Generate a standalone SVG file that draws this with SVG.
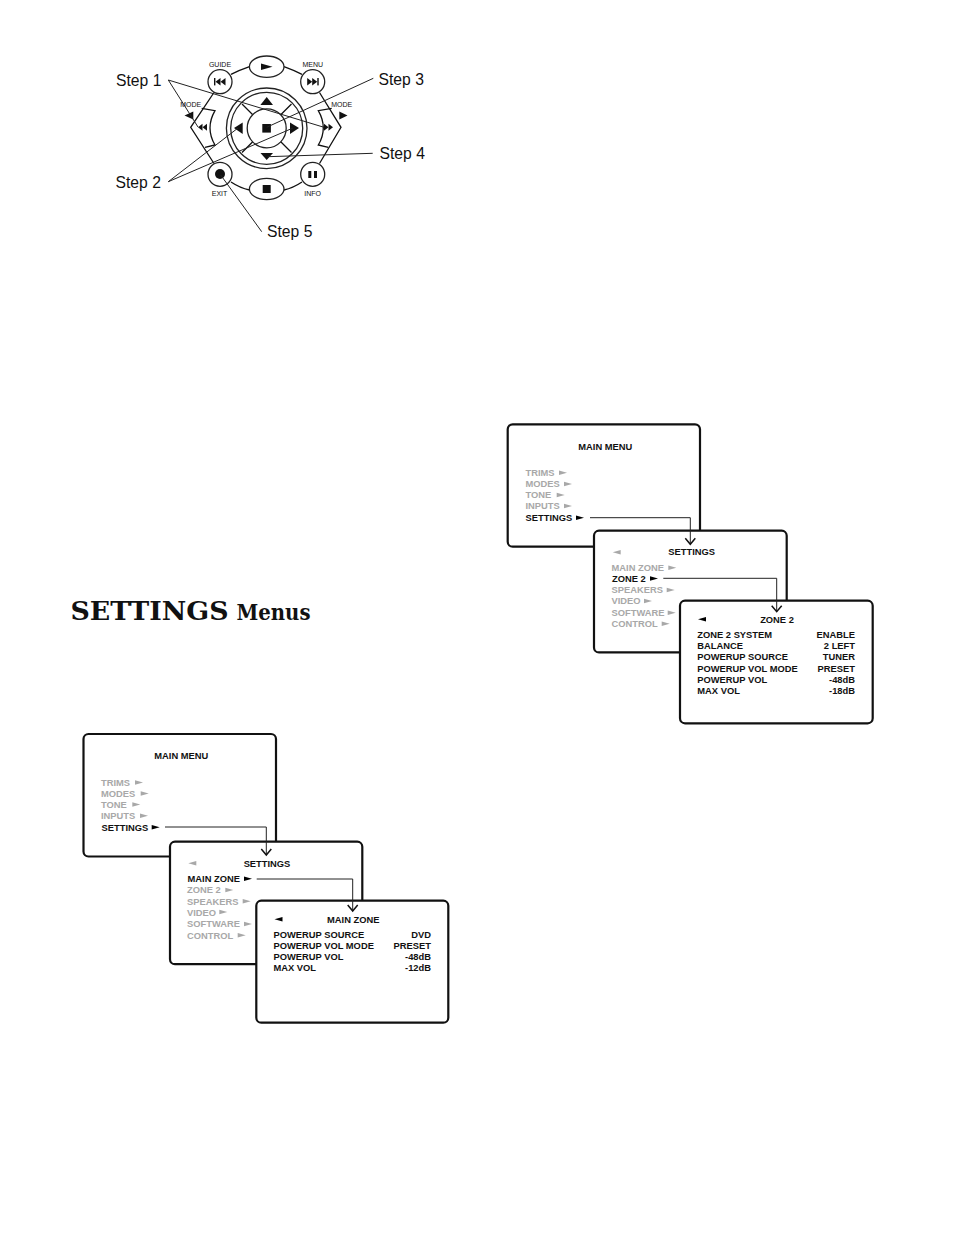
<svg xmlns="http://www.w3.org/2000/svg" width="954" height="1235" viewBox="0 0 954 1235">
<style>
text{font-family:"Liberation Sans",Arial,sans-serif;fill:#111}
.b{fill:#fff;stroke:#111;stroke-width:2.2}
.t{font-size:9.35px;font-weight:bold}
.g{fill:#a8a8a8}
.e{text-anchor:end}
.m{text-anchor:middle}
.s{font-size:15.7px}
.r{font-size:7px;text-anchor:middle}
.l{fill:none;stroke:#222;stroke-width:1}
.o{fill:#fff;stroke:#222;stroke-width:1.3}
.k{fill:#111;stroke:none}
.h{fill:none;stroke:#111;stroke-width:1.3}
.tg{fill:#a8a8a8}
.ar{fill:none;stroke:#111;stroke-width:1.5}
</style>
<defs>
<polygon id="ra" points="0,-2.3 8,0 0,2.3"/>
<polygon id="la" points="8,-2.3 0,0 8,2.3"/>
</defs>
<rect width="954" height="1235" fill="#fff"/>

<g id="remote">
<path class="h" d="M231,74.3Q240,70 249.5,66.7M302,74.3Q293,70 284,66.7M231,182Q240,188 249.5,190M302,182Q293,188 284,190"/>
<path class="h" d="M214,92.5L190.7,127.3L214,163.5M319.5,92.5L341,127.3L319.5,163.5"/>
<path class="h" d="M201.7,108.3L215,110.7Q205,128 215,145L205,147.3M331.7,108.3L318.3,110.7Q328.3,128 318.3,145L328.3,147.3"/>
<circle class="o" cx="266.7" cy="128.3" r="40.3"/>
<circle class="o" cx="266.7" cy="128.3" r="36"/>
<path class="h" d="M242,104L253,115M291.5,104L280.5,115M242,152.5L253,141.5M291.5,152.5L280.5,141.5"/>
<circle class="o" cx="266.7" cy="128.3" r="19.5"/>
<polygon class="k" points="266.7,97 273,105 260.4,105"/>
<polygon class="k" points="260.5,153 273,153 266.7,160"/>
<polygon class="k" points="234,128 242.7,122.5 242.7,134"/>
<polygon class="k" points="299,128 290,122.5 290,134"/>
<rect class="k" x="262.3" y="124" width="8.6" height="8.6"/>
<polygon class="k" points="198,127.3 202.5,123.8 202.5,130.8"/>
<polygon class="k" points="202.5,127.3 207,123.8 207,130.8"/>
<polygon class="k" points="333,127.3 328.5,123.8 328.5,130.8"/>
<polygon class="k" points="328.5,127.3 324,123.8 324,130.8"/>
<text class="r" x="190.7" y="106.7">MODE</text>
<text class="r" x="341.7" y="106.7">MODE</text>
<polygon class="k" points="184.5,115.5 193.3,111.5 193.3,119.5"/>
<polygon class="k" points="339.3,111.5 347.5,115.5 339.3,119.5"/>
</g>
<g id="btn-play"><ellipse class="o" cx="266.7" cy="66.7" rx="17.3" ry="10.7"/><polygon class="k" points="261,63.5 272.5,66.7 261,70"/></g>
<g id="btn-stop"><ellipse class="o" cx="266.7" cy="189" rx="17.3" ry="10.7"/><rect class="k" x="262.7" y="185" width="8" height="8"/></g>
<g id="btn-guide"><circle class="o" cx="220" cy="81.7" r="12"/><rect class="k" x="214" y="78" width="1.4" height="7.4"/><polygon class="k" points="215.5,81.7 220.5,78 220.5,85.4"/><polygon class="k" points="220.5,81.7 225.5,78 225.5,85.4"/><text class="r" x="220" y="66.7">GUIDE</text></g>
<g id="btn-menu"><circle class="o" cx="312.7" cy="81.7" r="12"/><rect class="k" x="317.3" y="78" width="1.4" height="7.4"/><polygon class="k" points="317.2,81.7 312.2,78 312.2,85.4"/><polygon class="k" points="312.2,81.7 307.2,78 307.2,85.4"/><text class="r" x="312.7" y="66.7">MENU</text></g>
<g id="btn-exit"><circle class="o" cx="220" cy="174.3" r="12"/><circle class="k" cx="220" cy="174" r="5"/><text class="r" x="219.5" y="196">EXIT</text></g>
<g id="btn-info"><circle class="o" cx="312.7" cy="174.3" r="12"/><rect class="k" x="308.3" y="171" width="3" height="7"/><rect class="k" x="314" y="171" width="3" height="7"/><text class="r" x="312.7" y="196">INFO</text></g>

<g id="step-labels">
<text class="s" x="116" y="86">Step 1</text>
<text class="s" x="378.5" y="85">Step 3</text>
<text class="s" x="379.5" y="159">Step 4</text>
<text class="s" x="115.5" y="188">Step 2</text>
<text class="s" x="267" y="237">Step 5</text>
</g>

<text id="heading" y="619.5" style="font-family:'DejaVu Serif',serif;font-weight:bold"><tspan x="70.5" font-size="25.5" textLength="158" lengthAdjust="spacingAndGlyphs">SETTINGS</tspan><tspan x="236.5" font-size="22" textLength="74" lengthAdjust="spacingAndGlyphs">Menus</tspan></text>

<g id="left-main-menu">
<rect class="b" x="83.5" y="734" width="192.5" height="122.5" rx="5"/>
<text class="t m" x="181.3" y="759">MAIN MENU</text>
<text class="t g" x="101" y="786">TRIMS</text><use href="#ra" class="tg" x="135" y="782.5"/>
<text class="t g" x="101" y="797">MODES</text><use href="#ra" class="tg" x="140.7" y="793.5"/>
<text class="t g" x="101" y="808">TONE</text><use href="#ra" class="tg" x="132.3" y="804.5"/>
<text class="t g" x="101" y="819">INPUTS</text><use href="#ra" class="tg" x="140" y="815.7"/>
<text class="t" x="101.5" y="830.5">SETTINGS</text><use href="#ra" x="151.7" y="827.3"/>
</g>
<g id="left-settings">
<rect class="b" x="170" y="841.7" width="192.3" height="122.5" rx="5"/>
<use href="#la" class="tg" x="188.3" y="863.3"/>
<text class="t m" x="267" y="867">SETTINGS</text>
<text class="t" x="187.5" y="882.3">MAIN ZONE</text><use href="#ra" x="244" y="878.7"/>
<text class="t g" x="187" y="893.2">ZONE 2</text><use href="#ra" class="tg" x="225.3" y="890"/>
<text class="t g" x="187" y="905">SPEAKERS</text><use href="#ra" class="tg" x="242.7" y="901.3"/>
<text class="t g" x="187" y="916">VIDEO</text><use href="#ra" class="tg" x="219.3" y="912"/>
<text class="t g" x="187" y="927.2">SOFTWARE</text><use href="#ra" class="tg" x="244" y="924"/>
<text class="t g" x="187" y="938.5">CONTROL</text><use href="#ra" class="tg" x="237.7" y="935.3"/>
</g>
<g id="left-main-zone">
<rect class="b" x="256.3" y="900.7" width="192" height="122" rx="5"/>
<use href="#la" x="274.5" y="919.3"/>
<text class="t m" x="353.3" y="922.7">MAIN ZONE</text>
<text class="t" x="273.5" y="938">POWERUP SOURCE</text><text class="t e" x="431" y="938">DVD</text>
<text class="t" x="273.5" y="949">POWERUP VOL MODE</text><text class="t e" x="431" y="949">PRESET</text>
<text class="t" x="273.5" y="960.3">POWERUP VOL</text><text class="t e" x="431" y="960.3">-48dB</text>
<text class="t" x="273.5" y="971.3">MAX VOL</text><text class="t e" x="431" y="971.3">-12dB</text>
</g>

<g id="right-main-menu">
<rect class="b" x="507.7" y="424.3" width="192.3" height="122.4" rx="5"/>
<text class="t m" x="605.3" y="449.7">MAIN MENU</text>
<text class="t g" x="525.5" y="476">TRIMS</text><use href="#ra" class="tg" x="559" y="472.7"/>
<text class="t g" x="525.5" y="487">MODES</text><use href="#ra" class="tg" x="564" y="484"/>
<text class="t g" x="525.5" y="498.3">TONE</text><use href="#ra" class="tg" x="556.7" y="495"/>
<text class="t g" x="525.5" y="509">INPUTS</text><use href="#ra" class="tg" x="564" y="506"/>
<text class="t" x="525.5" y="521">SETTINGS</text><use href="#ra" x="576" y="517.7"/>
</g>
<g id="right-settings">
<rect class="b" x="594" y="530.7" width="192.7" height="121.7" rx="5"/>
<use href="#la" class="tg" x="612.7" y="552.3"/>
<text class="t m" x="691.7" y="555">SETTINGS</text>
<text class="t g" x="611.5" y="571">MAIN ZONE</text><use href="#ra" class="tg" x="668.3" y="567.7"/>
<text class="t" x="612" y="582">ZONE 2</text><use href="#ra" x="650" y="578.5"/>
<text class="t g" x="611.5" y="593.3">SPEAKERS</text><use href="#ra" class="tg" x="666.7" y="590"/>
<text class="t g" x="611.5" y="604.3">VIDEO</text><use href="#ra" class="tg" x="644" y="601"/>
<text class="t g" x="611.5" y="615.5">SOFTWARE</text><use href="#ra" class="tg" x="667.7" y="612.7"/>
<text class="t g" x="611.5" y="627">CONTROL</text><use href="#ra" class="tg" x="661.7" y="623.7"/>
</g>
<g id="right-zone-2">
<rect class="b" x="680" y="600.7" width="192.7" height="122.6" rx="5"/>
<use href="#la" x="698" y="619.3"/>
<text class="t m" x="777" y="622.7">ZONE 2</text>
<text class="t" x="697.3" y="638">ZONE 2 SYSTEM</text><text class="t e" x="855" y="638">ENABLE</text>
<text class="t" x="697.3" y="649.3">BALANCE</text><text class="t e" x="855" y="649.3">2 LEFT</text>
<text class="t" x="697.3" y="660.3">POWERUP SOURCE</text><text class="t e" x="855" y="660.3">TUNER</text>
<text class="t" x="697.3" y="671.6">POWERUP VOL MODE</text><text class="t e" x="855" y="671.6">PRESET</text>
<text class="t" x="697.3" y="683">POWERUP VOL</text><text class="t e" x="855" y="683">-48dB</text>
<text class="t" x="697.3" y="694">MAX VOL</text><text class="t e" x="855" y="694">-18dB</text>
</g>

<g id="connectors">
<path class="l" d="M168.3,80L198,127"/>
<path class="l" d="M168.3,80L324,127.3"/>
<path class="l" d="M168.3,181.7L238,128"/>
<path class="l" d="M168.3,181.7L293,128"/>
<path class="l" d="M373.3,78.3L266.7,127.3"/>
<path class="l" d="M372.7,153.3L267.7,156.7"/>
<path class="l" d="M261.7,231.7L220.7,175"/>
<path class="l" d="M165,827H266.3V855"/>
<path class="l" d="M256.7,879H352.7V911"/>
<path class="l" d="M590,517.7H690.3V544.3"/>
<path class="l" d="M663.3,578.3H776.7V611.7"/>
<path class="ar" d="M261.3,849L266.3,855L271.3,849"/>
<path class="ar" d="M347.7,905L352.7,911L357.7,905"/>
<path class="ar" d="M685.3,538.3L690.3,544.3L695.3,538.3"/>
<path class="ar" d="M771.7,605.7L776.7,611.7L781.7,605.7"/>
</g>
</svg>
